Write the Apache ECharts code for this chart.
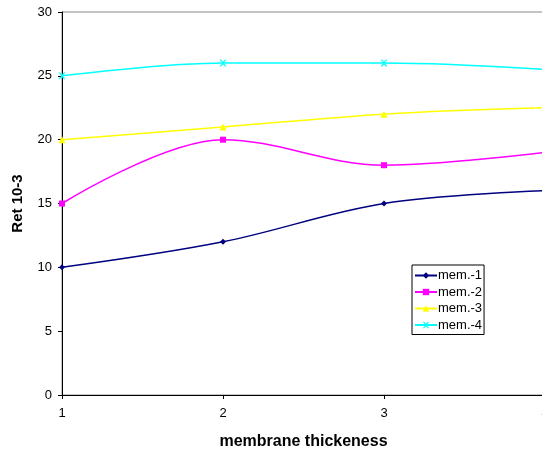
<!DOCTYPE html>
<html><head><meta charset="utf-8">
<script src="https://cdn.jsdelivr.net/npm/echarts@6/dist/echarts.min.js"></script>
<style>html,body{margin:0;padding:0;background:#fff}#c{width:542px;height:455px}</style>
</head><body><div id="c"></div>
<script>
const xValues = [1, 2, 3, 4];
const mem1 = [10, 12, 15, 16];
const mem2 = [15, 20, 18, 19];
const mem3 = [20, 21, 22, 22.5];
const mem4 = [25, 26, 26, 25.5];
const seriesNames = ['mem.-1', 'mem.-2', 'mem.-3', 'mem.-4'];
const seriesColors = ['#000080', '#FF00FF', '#FFFF00', '#00FFFF'];
const xSym = 'path://M0,0L2,0L5,3L8,0L10,0L6,5L10,10L8,10L5,7L2,10L0,10L4,5Z';
const symbols = ['diamond', 'rect', 'triangle', xSym];
const symSizes = [6, 6, 7, 7];
const allData = [mem1, mem2, mem3, mem4];

const chart = echarts.init(document.getElementById('c'));
chart.setOption({
  animation: false,
  textStyle: { fontFamily: 'Liberation Sans, Arial, sans-serif' },
  grid: { left: 62, right: -3, top: 12, bottom: 60, show: true, borderColor: '#888', borderWidth: 1, containLabel: false, outerBoundsMode: 'none' },
  legend: {
    orient: 'vertical', left: 412, top: 265,
    backgroundColor: '#fff', borderColor: '#000', borderWidth: 1,
    padding: [4, 2, 3, 2], itemGap: 3.5, itemWidth: 22, itemHeight: 8,
    textStyle: { fontSize: 13, color: '#000', fontFamily: 'Liberation Sans, Arial, sans-serif', padding: [0, 0, 0, -4] },
    data: seriesNames
  },
  xAxis: {
    type: 'value', min: 1, max: 4, interval: 1,
    name: 'membrane thickeness', nameLocation: 'middle', nameGap: 39,
    nameTextStyle: { fontSize: 16, fontWeight: 'bold', color: '#000' },
    axisLine: { lineStyle: { color: '#000', width: 1 } },
    axisTick: { show: true, length: 4, lineStyle: { color: '#000' } },
    axisLabel: { fontSize: 13, color: '#000', margin: 12 },
    splitLine: { show: false }
  },
  yAxis: {
    type: 'value', min: 0, max: 30, interval: 5,
    name: 'Ret 10-3', nameLocation: 'middle', nameGap: 37, nameRotate: 90,
    nameTextStyle: { fontSize: 15, fontWeight: 'bold', color: '#000' },
    axisLine: { show: true, lineStyle: { color: '#000', width: 1 } },
    axisTick: { show: true, length: 4, lineStyle: { color: '#000' } },
    axisLabel: { fontSize: 13, color: '#000', margin: 10 },
    splitLine: { show: false }
  },
  series: allData.map((d, i) => ({
    name: seriesNames[i], type: 'line', smooth: 0.35,
    data: d.map((v, j) => [xValues[j], v]),
    symbol: symbols[i], symbolSize: symSizes[i], showAllSymbol: true,
    color: seriesColors[i],
    lineStyle: { width: 1.5, color: seriesColors[i] },
    itemStyle: { color: seriesColors[i] }
  }))
});
</script></body></html>
